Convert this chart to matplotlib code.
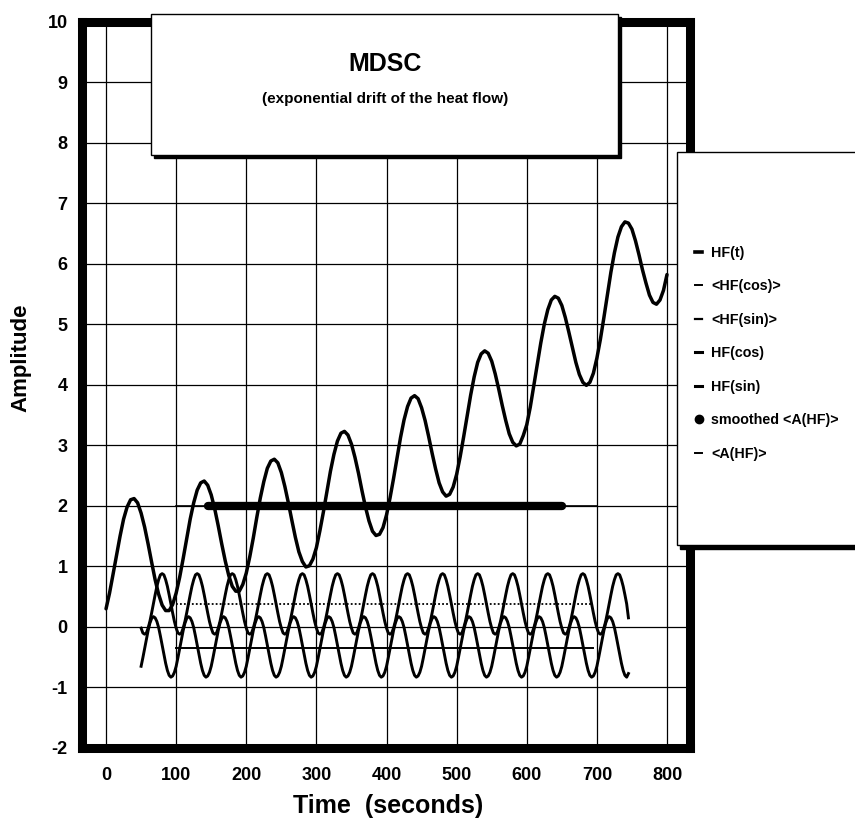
import matplotlib
matplotlib.use('Agg')
import matplotlib.pyplot as plt
from matplotlib.patches import Rectangle
from matplotlib.lines import Line2D

plt.rcParams['font.family'] = ['Liberation Sans', 'DejaVu Sans']
plt.rcParams['font.weight'] = 'bold'
plt.rcParams['axes.unicode_minus'] = False

# ---------------- data ----------------
# HF(t): heat flow with exponential drift, read every 5 s
t_hf = [5 * i for i in range(161)]
hf_t = [0.30, 0.56, 0.87, 1.19, 1.50, 1.78, 1.98, 2.10, 2.12, 2.05,
        1.88, 1.65, 1.37, 1.07, 0.78, 0.54, 0.36, 0.27, 0.27, 0.37,
        0.56, 0.82, 1.13, 1.46, 1.78, 2.05, 2.26, 2.38, 2.41, 2.34,
        2.18, 1.95, 1.67, 1.37, 1.09, 0.85, 0.67, 0.59, 0.59, 0.70,
        0.89, 1.16, 1.47, 1.81, 2.13, 2.40, 2.62, 2.74, 2.77, 2.71,
        2.55, 2.32, 2.05, 1.76, 1.48, 1.24, 1.08, 0.99, 1.01, 1.12,
        1.31, 1.59, 1.90, 2.24, 2.57, 2.85, 3.07, 3.20, 3.23, 3.17,
        3.02, 2.80, 2.54, 2.25, 1.98, 1.75, 1.58, 1.51, 1.53, 1.64,
        1.85, 2.13, 2.45, 2.79, 3.13, 3.42, 3.64, 3.78, 3.82, 3.77,
        3.62, 3.41, 3.15, 2.87, 2.61, 2.38, 2.23, 2.16, 2.19, 2.31,
        2.52, 2.81, 3.14, 3.49, 3.83, 4.13, 4.37, 4.51, 4.56, 4.52,
        4.39, 4.18, 3.93, 3.66, 3.41, 3.19, 3.05, 2.99, 3.02, 3.16,
        3.34, 3.63, 3.98, 4.34, 4.69, 5.00, 5.24, 5.40, 5.46, 5.43,
        5.31, 5.11, 4.87, 4.62, 4.37, 4.17, 4.04, 3.99, 4.04, 4.19,
        4.44, 4.75, 5.11, 5.49, 5.86, 6.18, 6.44, 6.61, 6.69, 6.67,
        6.57, 6.38, 6.15, 5.90, 5.68, 5.48, 5.36, 5.33, 5.40, 5.56,
        5.82]

# HF(cos) and HF(sin): read every 2.5 s from 50 s to 745 s
t_cs = [50 + 2.5 * i for i in range(279)]
hf_cos = [
    -0.02, -0.10, -0.12, -0.10, -0.02, 0.09, 0.23, 0.38, 0.53, 0.67, 0.78, 0.86, 0.88, 0.86, 0.78, 0.67, 0.53, 0.38, 0.23, 0.09,
    -0.02, -0.10, -0.12, -0.10, -0.02, 0.09, 0.23, 0.38, 0.53, 0.67, 0.78, 0.86, 0.88, 0.86, 0.78, 0.67, 0.53, 0.38, 0.23, 0.09,
    -0.02, -0.10, -0.12, -0.10, -0.02, 0.09, 0.23, 0.38, 0.53, 0.67, 0.78, 0.86, 0.88, 0.86, 0.78, 0.67, 0.53, 0.38, 0.23, 0.09,
    -0.02, -0.10, -0.12, -0.10, -0.02, 0.09, 0.23, 0.38, 0.53, 0.67, 0.78, 0.86, 0.88, 0.86, 0.78, 0.67, 0.53, 0.38, 0.23, 0.09,
    -0.02, -0.10, -0.12, -0.10, -0.02, 0.09, 0.23, 0.38, 0.53, 0.67, 0.78, 0.86, 0.88, 0.86, 0.78, 0.67, 0.53, 0.38, 0.23, 0.09,
    -0.02, -0.10, -0.12, -0.10, -0.02, 0.09, 0.23, 0.38, 0.53, 0.67, 0.78, 0.86, 0.88, 0.86, 0.78, 0.67, 0.53, 0.38, 0.23, 0.09,
    -0.02, -0.10, -0.12, -0.10, -0.02, 0.09, 0.23, 0.38, 0.53, 0.67, 0.78, 0.86, 0.88, 0.86, 0.78, 0.67, 0.53, 0.38, 0.23, 0.09,
    -0.02, -0.10, -0.12, -0.10, -0.02, 0.09, 0.23, 0.38, 0.53, 0.67, 0.78, 0.86, 0.88, 0.86, 0.78, 0.67, 0.53, 0.38, 0.23, 0.09,
    -0.02, -0.10, -0.12, -0.10, -0.02, 0.09, 0.23, 0.38, 0.53, 0.67, 0.78, 0.86, 0.88, 0.86, 0.78, 0.67, 0.53, 0.38, 0.23, 0.09,
    -0.02, -0.10, -0.12, -0.10, -0.02, 0.09, 0.23, 0.38, 0.53, 0.67, 0.78, 0.86, 0.88, 0.86, 0.78, 0.67, 0.53, 0.38, 0.23, 0.09,
    -0.02, -0.10, -0.12, -0.10, -0.02, 0.09, 0.23, 0.38, 0.53, 0.67, 0.78, 0.86, 0.88, 0.86, 0.78, 0.67, 0.53, 0.38, 0.23, 0.09,
    -0.02, -0.10, -0.12, -0.10, -0.02, 0.09, 0.23, 0.38, 0.53, 0.67, 0.78, 0.86, 0.88, 0.86, 0.78, 0.67, 0.53, 0.38, 0.23, 0.09,
    -0.02, -0.10, -0.12, -0.10, -0.02, 0.09, 0.23, 0.38, 0.53, 0.67, 0.78, 0.86, 0.88, 0.86, 0.78, 0.67, 0.53, 0.38, 0.23, 0.09,
    -0.02, -0.10, -0.12, -0.10, -0.02, 0.09, 0.23, 0.38, 0.53, 0.67, 0.78, 0.86, 0.88, 0.86, 0.78, 0.67, 0.53, 0.38, 0.15]
hf_sin = [
    -0.65, -0.51, -0.36, -0.21, -0.06, 0.06, 0.14, 0.17, 0.15, 0.09, -0.01, -0.15, -0.30, -0.45, -0.60, -0.72, -0.80, -0.83, -0.81, -0.75,
    -0.65, -0.51, -0.36, -0.21, -0.06, 0.06, 0.14, 0.17, 0.15, 0.09, -0.01, -0.15, -0.30, -0.45, -0.60, -0.72, -0.80, -0.83, -0.81, -0.75,
    -0.65, -0.51, -0.36, -0.21, -0.06, 0.06, 0.14, 0.17, 0.15, 0.09, -0.01, -0.15, -0.30, -0.45, -0.60, -0.72, -0.80, -0.83, -0.81, -0.75,
    -0.65, -0.51, -0.36, -0.21, -0.06, 0.06, 0.14, 0.17, 0.15, 0.09, -0.01, -0.15, -0.30, -0.45, -0.60, -0.72, -0.80, -0.83, -0.81, -0.75,
    -0.65, -0.51, -0.36, -0.21, -0.06, 0.06, 0.14, 0.17, 0.15, 0.09, -0.01, -0.15, -0.30, -0.45, -0.60, -0.72, -0.80, -0.83, -0.81, -0.75,
    -0.65, -0.51, -0.36, -0.21, -0.06, 0.06, 0.14, 0.17, 0.15, 0.09, -0.01, -0.15, -0.30, -0.45, -0.60, -0.72, -0.80, -0.83, -0.81, -0.75,
    -0.65, -0.51, -0.36, -0.21, -0.06, 0.06, 0.14, 0.17, 0.15, 0.09, -0.01, -0.15, -0.30, -0.45, -0.60, -0.72, -0.80, -0.83, -0.81, -0.75,
    -0.65, -0.51, -0.36, -0.21, -0.06, 0.06, 0.14, 0.17, 0.15, 0.09, -0.01, -0.15, -0.30, -0.45, -0.60, -0.72, -0.80, -0.83, -0.81, -0.75,
    -0.65, -0.51, -0.36, -0.21, -0.06, 0.06, 0.14, 0.17, 0.15, 0.09, -0.01, -0.15, -0.30, -0.45, -0.60, -0.72, -0.80, -0.83, -0.81, -0.75,
    -0.65, -0.51, -0.36, -0.21, -0.06, 0.06, 0.14, 0.17, 0.15, 0.09, -0.01, -0.15, -0.30, -0.45, -0.60, -0.72, -0.80, -0.83, -0.81, -0.75,
    -0.65, -0.51, -0.36, -0.21, -0.06, 0.06, 0.14, 0.17, 0.15, 0.09, -0.01, -0.15, -0.30, -0.45, -0.60, -0.72, -0.80, -0.83, -0.81, -0.75,
    -0.65, -0.51, -0.36, -0.21, -0.06, 0.06, 0.14, 0.17, 0.15, 0.09, -0.01, -0.15, -0.30, -0.45, -0.60, -0.72, -0.80, -0.83, -0.81, -0.75,
    -0.65, -0.51, -0.36, -0.21, -0.06, 0.06, 0.14, 0.17, 0.15, 0.09, -0.01, -0.15, -0.30, -0.45, -0.60, -0.72, -0.80, -0.83, -0.81, -0.75,
    -0.65, -0.51, -0.36, -0.21, -0.06, 0.06, 0.14, 0.17, 0.15, 0.09, -0.01, -0.15, -0.30, -0.45, -0.60, -0.72, -0.80, -0.83, -0.77]

t_avg = [100, 695]
avg_cos = [0.38, 0.38]
avg_sin = [-0.35, -0.35]
t_a = [100, 700]
a_hf = [2.0, 2.0]
t_smooth = [145, 650]
smooth_a = [2.0, 2.0]

x_ticks = [0, 100, 200, 300, 400, 500, 600, 700, 800]
y_ticks = [-2, -1, 0, 1, 2, 3, 4, 5, 6, 7, 8, 9, 10]
legend_labels = ['HF(t)', '<HF(cos)>', '<HF(sin)>', 'HF(cos)', 'HF(sin)',
                 'smoothed <A(HF)>', '<A(HF)>']
title_main = 'MDSC'
title_sub = '(exponential drift of the heat flow)'

# ---------------- figure ----------------
W, H = 855, 819
fig = plt.figure(figsize=(W / 100, H / 100), dpi=100)
fig.patch.set_facecolor('white')


def fx(px):
    return px / W


def fy(py):
    return 1 - py / H


ax = fig.add_axes([fx(81.5), fy(748), (690 - 81.5) / W, (748 - 21.5) / H])
ax.set_xlim(-35, 832.8)
ax.set_ylim(-2, 10)
ax.set_xticks(x_ticks)
ax.set_yticks(y_ticks)
ax.set_axisbelow(True)
ax.grid(True, color='black', lw=0.9)
ax.tick_params(length=0, labelsize=13)
ax.tick_params(axis='y', pad=10)
ax.tick_params(axis='x', pad=14)
for lab in ax.get_xticklabels() + ax.get_yticklabels():
    lab.set_fontweight('bold')
for sp in ax.spines.values():
    sp.set_linewidth(6.5)
    sp.set_color('black')

ax.plot(t_hf, hf_t, color='black', lw=2.5, solid_joinstyle='round',
        solid_capstyle='round', zorder=3)
ax.plot(t_cs, hf_cos, color='black', lw=2.1, solid_joinstyle='round', zorder=3)
ax.plot(t_cs, hf_sin, color='black', lw=2.1, solid_joinstyle='round', zorder=3)
ax.plot(t_avg, avg_cos, color='black', lw=1.3, ls=(0, (1, 1.2)), zorder=2)
ax.plot(t_avg, avg_sin, color='black', lw=1.4, zorder=2)
ax.plot(t_a, a_hf, color='black', lw=1.2, zorder=2)
ax.plot(t_smooth, smooth_a, color='black', lw=6.0, solid_capstyle='round', zorder=4)

ax.set_xlabel('Time  (seconds)', fontsize=18, fontweight='bold')
ax.xaxis.set_label_coords(0.504, -0.063)
ax.set_ylabel('Amplitude', fontsize=16, fontweight='bold')
ax.yaxis.set_label_coords(-0.082, 0.537)

# title box with drop shadow
bx0, by0, bx1, by1 = 151, 14, 618, 155
fig.add_artist(Rectangle((fx(bx0 + 3), fy(by1 + 3)), (bx1 - bx0) / W, (by1 - by0) / H,
                         transform=fig.transFigure, facecolor='black', edgecolor='black', zorder=5))
fig.add_artist(Rectangle((fx(bx0), fy(by1)), (bx1 - bx0) / W, (by1 - by0) / H,
                         transform=fig.transFigure, facecolor='white', edgecolor='black',
                         lw=1.0, zorder=6))
fig.text(fx(385), fy(64), title_main, fontsize=18, fontweight='bold',
         ha='center', va='center', zorder=7)
fig.text(fx(385), fy(99), title_sub, fontsize=11, fontweight='bold',
         ha='center', va='center', zorder=7)

# legend box with drop shadow
lx0, ly0, lx1, ly1 = 677, 152, 875, 545
fig.add_artist(Rectangle((fx(lx0 + 3), fy(ly1 + 4)), (lx1 - lx0) / W, (ly1 - ly0) / H,
                         transform=fig.transFigure, facecolor='black', edgecolor='black', zorder=5))
fig.add_artist(Rectangle((fx(lx0), fy(ly1)), (lx1 - lx0) / W, (ly1 - ly0) / H,
                         transform=fig.transFigure, facecolor='white', edgecolor='black',
                         lw=1.0, zorder=6))

handles = [Line2D([], [], color='black', lw=2.6),
           Line2D([], [], color='black', lw=1.4),
           Line2D([], [], color='black', lw=1.6),
           Line2D([], [], color='black', lw=2.2),
           Line2D([], [], color='black', lw=2.2),
           Line2D([], [], color='black', ls='none', marker='o', ms=6),
           Line2D([], [], color='black', lw=1.4)]
leg = fig.legend(handles, legend_labels, loc='upper left',
                 bbox_to_anchor=(fx(695), fy(246)), bbox_transform=fig.transFigure,
                 frameon=False, fontsize=10.3, handlelength=0.5, handletextpad=0.62,
                 labelspacing=1.36, borderpad=0, borderaxespad=0)
for txt in leg.get_texts():
    txt.set_fontweight('bold')
leg.set_zorder(8)

fig.savefig('out.png', dpi=100, facecolor='white')
